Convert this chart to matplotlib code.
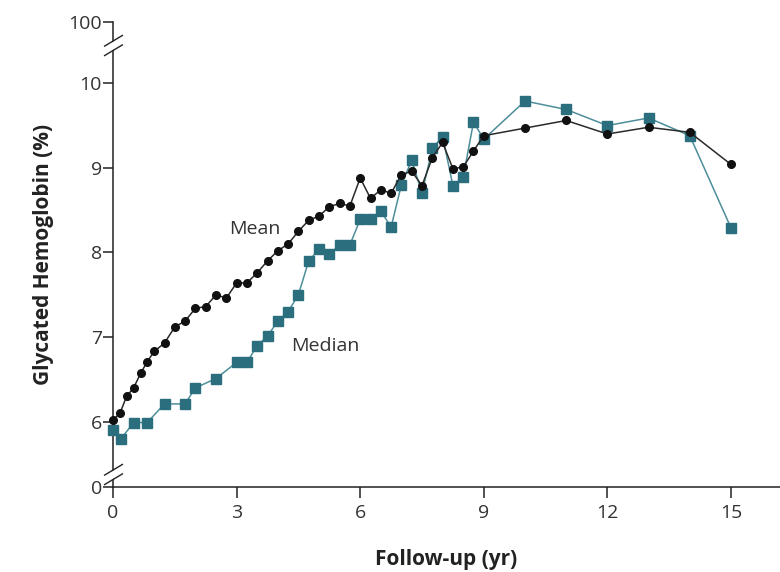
import numpy as np
import matplotlib
matplotlib.use('Agg')
import matplotlib.pyplot as plt
from matplotlib.path import Path

plt.rcParams['font.family'] = ['Open Sans', 'DejaVu Sans']

# follow-up times (yr) and glycated hemoglobin (%)
mean_t = [0, 0.17, 0.33, 0.5, 0.67, 0.83, 1.0, 1.25, 1.5, 1.75, 2.0, 2.25, 2.5, 2.75,
          3.0, 3.25, 3.5, 3.75, 4.0, 4.25, 4.5, 4.75, 5.0, 5.25, 5.5, 5.75,
          6.0, 6.25, 6.5, 6.75, 7.0, 7.25, 7.5, 7.75, 8.0, 8.25, 8.5, 8.75, 9.0,
          10, 11, 12, 13, 14, 15]
mean_hb = [6.02, 6.10, 6.30, 6.40, 6.57, 6.71, 6.83, 6.93, 7.12, 7.19, 7.34, 7.36, 7.50, 7.46,
           7.64, 7.64, 7.76, 7.90, 8.02, 8.10, 8.25, 8.38, 8.43, 8.54, 8.58, 8.55,
           8.88, 8.64, 8.74, 8.70, 8.92, 8.96, 8.79, 9.12, 9.30, 8.99, 9.01, 9.20, 9.38,
           9.47, 9.56, 9.40, 9.48, 9.42, 9.04]

median_t = [0, 0.2, 0.5, 0.83, 1.25, 1.75, 2.0, 2.5, 3.0, 3.25, 3.5, 3.75, 4.0, 4.25, 4.5,
            4.75, 5.0, 5.25, 5.5, 5.75, 6.0, 6.25, 6.5, 6.75, 7.0, 7.25, 7.5, 7.75, 8.0,
            8.25, 8.5, 8.75, 9.0, 10, 11, 12, 13, 14, 15]
median_hb = [5.90, 5.80, 5.99, 5.99, 6.21, 6.21, 6.40, 6.51, 6.70, 6.70, 6.90, 7.01, 7.19, 7.30, 7.50,
             7.90, 8.04, 7.98, 8.09, 8.09, 8.39, 8.39, 8.49, 8.30, 8.80, 9.09, 8.70, 9.23, 9.37,
             8.79, 8.89, 9.54, 9.34, 9.79, 9.69, 9.50, 9.59, 9.38, 8.29]

x_ticks = [0, 3, 6, 9, 12, 15]
y_ticks = [0, 6, 7, 8, 9, 10, 100]

# broken y scale: linear between A and B, 0-A and B-100 squeezed
A, B = 5.6, 10.2
LO, HI = 5.228, 10.724


def fwd(v):
    v = np.asarray(v, dtype=float)
    return np.where(v < A, LO + v * (A - LO) / A,
                    np.where(v > B, B + (v - B) * (HI - B) / (100 - B), v))


def inv(p):
    p = np.asarray(p, dtype=float)
    return np.where(p < A, (p - LO) * A / (A - LO),
                    np.where(p > B, B + (p - B) * (100 - B) / (HI - B), p))


fig = plt.figure(figsize=(7.8, 5.72), dpi=100)
ax = fig.add_axes([113 / 780, 1 - 487 / 572, 1 - 113 / 780, (487 - 22) / 572])
ax.set_yscale('function', functions=(fwd, inv))
ax.set_ylim(0, 100)
ax.set_xlim(0, (780 - 113) / 41.2)

teal = '#2b6f7e'
ax.plot(mean_t, mean_hb, color='#2a2a2a', lw=1.1, marker='o', ms=5.5,
        mfc='#111111', mec='#111111', zorder=4, clip_on=False)
ax.plot(median_t, median_hb, color='#4d8e9a', lw=1.1, marker='s', ms=7.5,
        mfc=teal, mec=teal, zorder=3, clip_on=False)

ax.text(3.43, 8.28, 'Mean', fontsize=14, color='#333333', ha='center', va='center')
ax.text(5.15, 6.89, 'Median', fontsize=14, color='#333333', ha='center', va='center')

for s in ['top', 'right']:
    ax.spines[s].set_visible(False)
for s in ['left', 'bottom']:
    ax.spines[s].set_linewidth(1.1)
    ax.spines[s].set_color('#222222')

ax.set_xticks(x_ticks)
ax.set_yticks(y_ticks)
ax.tick_params(axis='both', direction='out', width=1.1, color='#222222',
               labelsize=14, labelcolor='#333333')
ax.tick_params(axis='y', length=7, pad=1)
ax.tick_params(axis='x', length=8, pad=4)

# "//" break marks on the y axis
gap = Path([(-0.5, -0.3), (0.5, 0.3)], [Path.MOVETO, Path.LINETO])
slashes = Path([(-0.5, -0.55), (0.5, 0.05), (-0.5, -0.05), (0.5, 0.55)],
               [Path.MOVETO, Path.LINETO, Path.MOVETO, Path.LINETO])
for yb in [54, 2.3]:
    ax.plot([0], [yb], marker=gap, ms=14, mew=5, color='white', clip_on=False, zorder=5)
    ax.plot([0], [yb], marker=slashes, ms=15, mew=1.0, color='#222222', clip_on=False, zorder=6)

ax.set_xlabel('Follow-up (yr)', fontsize=15, fontweight='bold', color='#222222', labelpad=20)
ax.set_ylabel('Glycated Hemoglobin (%)', fontsize=15, fontweight='bold', color='#222222', labelpad=10)

fig.savefig('out.png', dpi=100)
